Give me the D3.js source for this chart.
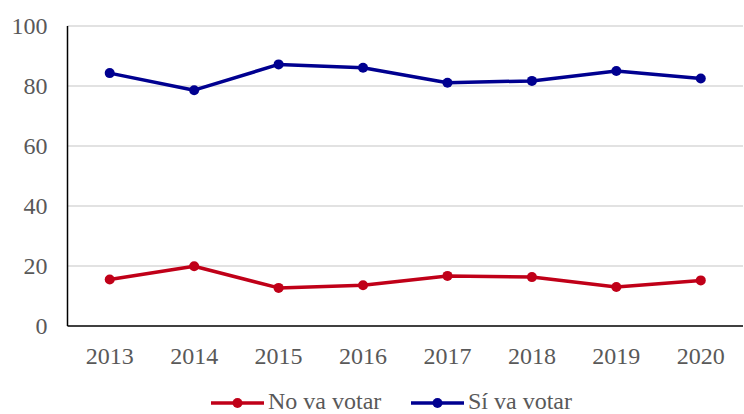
<!DOCTYPE html>
<html>
<head>
<meta charset="utf-8">
<script src="https://cdn.jsdelivr.net/npm/d3@7"></script>
<style>
  body { margin: 0; background: #fff; }
  text { font-family: "Liberation Serif", "Times New Roman", serif; }
</style>
</head>
<body>
<div id="plot"></div>
<script>
const years = ['2013','2014','2015','2016','2017','2018','2019','2020']
const noVota = [15.5, 19.9, 12.7, 13.6, 16.7, 16.3, 13.0, 15.2]
const siVota = [84.3, 78.6, 87.2, 86.1, 81.1, 81.7, 85.0, 82.5]
const yTicks = [0, 20, 40, 60, 80, 100]
const seriesNames = ['No va votar', 'Sí va votar']
const colors = ['#c00018', '#000090']

// set the dimensions and margins of the graph
var margin = {top: 26, right: 1, bottom: 88, left: 67.5},
    width = 744 - margin.left - margin.right,
    height = 414 - margin.top - margin.bottom;

var svg = d3.select('#plot')
  .append('svg')
    .attr('width', 744)
    .attr('height', 414)
  .append('g')
    .attr('transform', 'translate(' + margin.left + ',' + margin.top + ')');

const x = d3.scaleBand().domain(years).range([0, width])
const y = d3.scaleLinear().domain([0, 100]).range([height, 0])

// gridlines
svg.selectAll('.grid')
  .data(yTicks.filter(d => d > 0))
  .enter()
  .append('line')
    .attr('x1', 0).attr('x2', width)
    .attr('y1', d => y(d)).attr('y2', d => y(d))
    .attr('stroke', '#d9d9d9')
    .attr('stroke-width', 1.5)

// y labels
svg.selectAll('.ylab')
  .data(yTicks)
  .enter()
  .append('text')
    .attr('x', -20)
    .attr('y', d => y(d))
    .attr('dy', '0.35em')
    .attr('text-anchor', 'end')
    .style('font-size', '24px')
    .style('fill', '#595959')
    .text(d => d)

// x labels
svg.selectAll('.xlab')
  .data(years)
  .enter()
  .append('text')
    .attr('x', d => x(d) + x.bandwidth() / 2)
    .attr('y', height + 38)
    .attr('text-anchor', 'middle')
    .style('font-size', '24px')
    .style('fill', '#595959')
    .text(d => d)

// axes
svg.append('line')
  .attr('x1', 0).attr('x2', 0).attr('y1', 0).attr('y2', height)
  .attr('stroke', '#000').attr('stroke-width', 1.5)
svg.append('line')
  .attr('x1', 0).attr('x2', width).attr('y1', height).attr('y2', height)
  .attr('stroke', '#000').attr('stroke-width', 1.5)

const sumstat = [noVota, siVota].map((vals, i) => ({
  key: seriesNames[i],
  color: colors[i],
  values: years.map((yr, j) => ({year: yr, value: vals[j]}))
}))

const line = d3.line()
  .x(d => x(d.year) + x.bandwidth() / 2)
  .y(d => y(d.value))

sumstat.forEach(s => {
  svg.append('path')
    .attr('fill', 'none')
    .attr('stroke', s.color)
    .attr('stroke-width', 3.5)
    .attr('stroke-linejoin', 'round')
    .attr('d', line(s.values))
  svg.selectAll(null)
    .data(s.values)
    .enter()
    .append('circle')
      .attr('cx', d => x(d.year) + x.bandwidth() / 2)
      .attr('cy', d => y(d.value))
      .attr('r', 5)
      .attr('fill', s.color)
})

// legend
const legend = d3.select('svg').append('g')
const legX = [211, 411]
sumstat.forEach((s, i) => {
  const g = legend.append('g').attr('transform', `translate(${legX[i]},403)`)
  g.append('line').attr('x1', 0).attr('x2', 53).attr('y1', 0).attr('y2', 0)
    .attr('stroke', s.color).attr('stroke-width', 3.5)
  g.append('circle').attr('cx', 26.5).attr('cy', 0).attr('r', 5).attr('fill', s.color)
  g.append('text').attr('x', 57).attr('y', 0).attr('dy', '0.24em')
    .style('font-size', '24px').style('fill', '#595959').text(s.key)
})
</script>
</body>
</html>
